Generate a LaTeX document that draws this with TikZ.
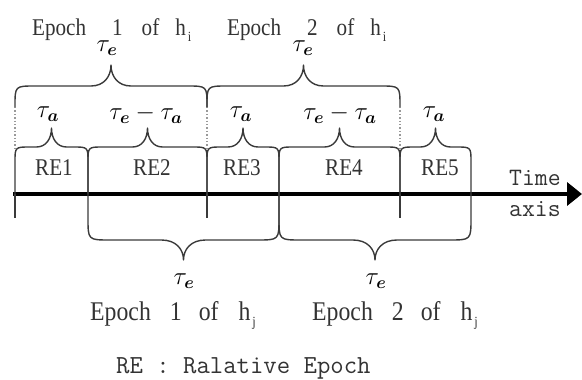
\documentclass[tikz,border=0pt]{standalone}
\usepackage{amsmath}
\usepackage{fontspec}
\usetikzlibrary{arrows.meta}

\newfontfamily\capfont[FakeStretch=0.88]{Liberation Serif}

\definecolor{inkline}{HTML}{3A3A3A}
\definecolor{inktext}{HTML}{333333}

% subscripted host name, e.g. h_i
\newcommand\hsub[1]{h\kern2pt\raisebox{-6pt}{\fontsize{14}{14}\selectfont #1}}
% widely spaced epoch caption: #1 gap after "Epoch", #2 number, #3 gap after number, #4 gap after "of", #5 host index
\newcommand\epochcap[5]{Epoch\hspace{#1}#2\hspace{#3}of\hspace{#4}\hsub{#5}}
\newcommand\tsub[1]{\tau_{\boldsymbol{#1}}}

% curly brace: #1 left x, #2 right x, #3 leg end y, #4 bar y, #5 tip y,
% #6 signed corner radius (positive: legs hang below the bar)
\newcommand\curlybrace[6]{%
  \pgfmathsetmacro\bxm{(#1+#2)/2}%
  \pgfmathsetmacro\brad{abs(#6)}%
  \draw[bracestyle] (#1,#3) -- (#1,{#4+#6})
    .. controls (#1,#4) .. ({#1+\brad},#4) -- ({\bxm-\brad},#4)
    .. controls ({\bxm-0.35*\brad},#4) and (\bxm,{#4+0.45*(#5-#4)}) .. (\bxm,#5)
    .. controls (\bxm,{#4+0.45*(#5-#4)}) and ({\bxm+0.35*\brad},#4) .. ({\bxm+\brad},#4)
    -- ({#2-\brad},#4) .. controls (#2,#4) .. (#2,{#4+#6}) -- (#2,#3);%
}

\tikzset{
  bracestyle/.style={draw=inkline, line width=1.4pt, line join=round},
  tickline/.style={draw=inkline, line width=1.6pt},
  guide/.style={draw=gray!80, line width=1.4pt, dotted},
  lbl/.style={text=inktext, inner sep=0pt, anchor=base west},
  toplbl/.style={lbl, font=\capfont\fontsize{24}{24}\selectfont},
  botlbl/.style={lbl, font=\capfont\fontsize{27}{27}\selectfont},
  relbl/.style={text=inktext, inner sep=0pt, anchor=base, font=\capfont\fontsize{24}{24}\selectfont},
  ttlbl/.style={lbl, font=\ttfamily\fontsize{25}{25}\selectfont},
  mlbl/.style={text=black, inner sep=0pt, font=\fontsize{25}{25}\selectfont},
}

\begin{document}
\begin{tikzpicture}[x=1pt,y=-1pt]
\useasboundingbox (0,0) rectangle (582,380);

% epoch boundaries on the time axis
\coordinate (b0) at (15,194);
\coordinate (b1) at (88,194);
\coordinate (b2) at (207,194);
\coordinate (b3) at (279,194);
\coordinate (b4) at (400,194);
\coordinate (b5) at (471,194);
\coordinate (axstart) at (13,194);
\coordinate (axend) at (582,194);

% time axis
\draw[line width=3.6pt, -{Triangle[length=15pt,width=23pt]}] (axstart) -- (axend);

% ticks below the axis
\foreach \b in {b0,b2,b4} \draw[tickline] (\b) -- ++(0,24);

% dotted guides between the two rows of braces
\foreach \b in {b0,b2,b4} \draw[guide] (\b) ++(0,-87) -- ++(0,43);

% relative epochs
\curlybrace{15}{88}{194}{147}{128}{15}
\curlybrace{88}{207}{194}{147}{128}{15}
\curlybrace{207}{279}{194}{147}{128}{15}
\curlybrace{279}{400}{194}{147}{128}{15}
\curlybrace{400}{471}{194}{147}{128}{15}

% epochs of h_i
\curlybrace{15}{207}{107}{86}{65}{20}
\curlybrace{207}{400}{107}{86}{65}{20}

% epochs of h_j
\curlybrace{88}{279}{194}{240}{260}{-22}
\curlybrace{279}{471}{194}{240}{260}{-22}

% labels
\node[toplbl] (ei1) at (32,35) {\epochcap{26pt}{1}{19pt}{16pt}{i}};
\node[toplbl] (ei2) at (227,35) {\epochcap{26pt}{2}{19pt}{16pt}{i}};
\node[mlbl] (te1) at (107,48) {$\tsub{e}$};
\node[mlbl] (te2) at (303,48) {$\tsub{e}$};

\node[mlbl] (ta1) at (48,114) {$\tsub{a}$};
\node[mlbl] (td2) at (146,114) {$\tsub{e}-\tsub{a}$};
\node[mlbl] (ta3) at (241,114) {$\tsub{a}$};
\node[mlbl] (td4) at (340,114) {$\tsub{e}-\tsub{a}$};
\node[mlbl] (ta5) at (434,114) {$\tsub{a}$};

\node[relbl] (re1) at (54,175) {RE1};
\node[relbl] (re2) at (152,175) {RE2};
\node[relbl] (re3) at (242,175) {RE3};
\node[relbl] (re4) at (344,175) {RE4};
\node[relbl] (re5) at (440,175) {RE5};

\node[ttlbl] (time) at (509,185) {Time};
\node[ttlbl] (axis) at (509,216) {axis};

\node[mlbl] (tj1) at (184,281) {$\tsub{e}$};
\node[mlbl] (tj2) at (376,281) {$\tsub{e}$};
\node[botlbl] (ej1) at (90,320) {\epochcap{19pt}{1}{17pt}{20pt}{j}};
\node[botlbl] (ej2) at (312,320) {\epochcap{19pt}{2}{17pt}{20pt}{j}};

\node[ttlbl, font=\ttfamily\fontsize{26}{26}\selectfont] (legend) at (116,373) {RE : Ralative Epoch};
\end{tikzpicture}
\end{document}
